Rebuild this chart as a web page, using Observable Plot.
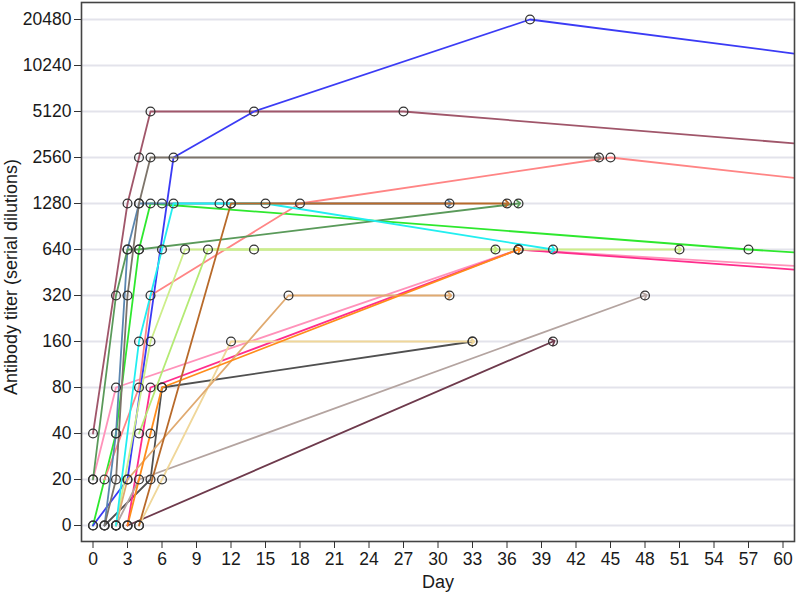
<!DOCTYPE html>
<html>
<head>
<meta charset="utf-8">
<script src="https://cdn.jsdelivr.net/npm/d3@7"></script>
<script src="https://cdn.jsdelivr.net/npm/@observablehq/plot@0.6"></script>
<style>
  html, body { margin: 0; padding: 0; background: #fff; }
</style>
</head>
<body>
<div id="chart"></div>
<script>
// Tick values
const titerTicks = [0, 20, 40, 80, 160, 320, 640, 1280, 2560, 5120, 10240, 20480];
const dayTicks = [0, 3, 6, 9, 12, 15, 18, 21, 24, 27, 30, 33, 36, 39, 42, 45, 48, 51, 54, 57, 60];

// Series: [day, titer] observations (points beyond day 61 are clipped by the frame)
const blue        = [[0,0],[3,20],[7,2560],[14,5120],[38,20480],[100,5120]];
const maroon      = [[0,40],[3,1280],[4,2560],[5,5120],[27,5120],[76,2560]];
const taupe       = [[1,0],[2,20],[3,320],[4,1280],[5,2560],[44,2560]];
const salmon      = [[1,20],[4,80],[5,320],[18,1280],[45,2560],[81,1280]];
const sienna      = [[4,0],[12,1280],[36,1280]];
const cyan        = [[2,0],[4,160],[6,640],[7,1280],[11,1280],[15,1280],[40,640]];
const green       = [[0,0],[2,40],[4,640],[5,1280],[57,640],[120,320]];
const darkGreen   = [[0,20],[2,320],[3,640],[4,640],[37,1280]];
const hotPink     = [[3,0],[5,80],[37,640],[92,320]];
const lightPink   = [[0,20],[2,80],[37,640],[104,320]];
const orange      = [[3,0],[5,40],[6,80],[37,640]];
const tan         = [[2,0],[3,20],[17,320],[31,320]];
const wheat       = [[4,0],[6,20],[12,160],[33,160]];
const darkGray    = [[1,0],[5,20],[6,80],[33,160]];
const rosyGray    = [[2,0],[4,20],[48,320]];
const plum        = [[3,0],[40,160]];
const yellowGreen = [[2,0],[5,160],[8,640],[51,640]];
const lime        = [[4,40],[10,640],[14,640],[35,640]];
const steel       = [[1,0],[2,40],[3,640],[4,1280],[6,1280],[12,1280],[31,1280]];

const seriesNames  = ["steel","lime","yellowGreen","plum","rosyGray","darkGray","wheat","tan","orange","lightPink","hotPink","darkGreen","green","cyan","sienna","salmon","taupe","maroon","blue"];
const seriesData   = [steel, lime, yellowGreen, plum, rosyGray, darkGray, wheat, tan, orange, lightPink, hotPink, darkGreen, green, cyan, sienna, salmon, taupe, maroon, blue];
const seriesColors = ["#5a86b0","#b4ea74","#cdee8a","#6e3a4c","#b4a4a0","#505050","#f0d79a","#e0aa70","#ff8c1a","#ff92ba","#ff2d8c","#5a9a5a","#2ee82e","#22eef0","#b86a2a","#ff8585","#7d746a","#a0566a","#3b3bf5"];
const seriesArrow  = [true, true, true, true, true, false, true, true, true, false, false, true, false, true, true, false, true, false, false];

const rows = [];
seriesData.forEach((pts, i) => {
  pts.forEach(([day, titer]) => rows.push({
    id: seriesNames[i], day, titer, color: seriesColors[i], arrow: seriesArrow[i]
  }));
});
const arrowRows = rows.filter(d => d.arrow);
const plainRows = rows.filter(d => !d.arrow);

const chart = Plot.plot({
  width: 797,
  height: 596,
  marginLeft: 81,
  marginRight: 3,
  marginTop: 2,
  marginBottom: 55,
  style: {fontFamily: "'Liberation Sans', Arial, sans-serif", fontSize: "17px", color: "#1a1a1a", background: "#fff"},
  x: {domain: [-1, 61]},
  y: {type: "point", domain: titerTicks, reverse: true, padding: 0.256},
  color: {type: "identity"},
  marks: [
    Plot.gridY(titerTicks, {stroke: "#e3e3eb", strokeOpacity: 1, strokeWidth: 2}),
    Plot.line(plainRows, {x: "day", y: "titer", z: "id", stroke: "color", strokeWidth: 1.8, clip: true}),
    Plot.line(arrowRows, {x: "day", y: "titer", z: "id", stroke: "color", strokeWidth: 1.8, markerEnd: "arrow", clip: true}),
    Plot.dot(rows, {x: "day", y: "titer", r: 4.4, stroke: "#333", strokeWidth: 1.3, fill: "none", clip: true}),
    Plot.frame({stroke: "#444", strokeWidth: 1.6}),
    Plot.axisX(dayTicks, {tickSize: 7, tickPadding: 4, fontSize: 17.5, label: null, stroke: "#333"}),
    Plot.axisY(titerTicks, {tickSize: 7, tickPadding: 3, fontSize: 17.5, label: null, stroke: "#333", tickFormat: d => String(d)}),
    Plot.text(["Day"], {frameAnchor: "bottom", dy: 46, fontSize: 18, text: d => d}),
    Plot.text(["Antibody titer (serial dilutions)"], {frameAnchor: "left", textAnchor: "middle", dx: -70, dy: 5, rotate: -90, fontSize: 18, text: d => d})
  ]
});
document.getElementById("chart").appendChild(chart);
</script>
</body>
</html>
